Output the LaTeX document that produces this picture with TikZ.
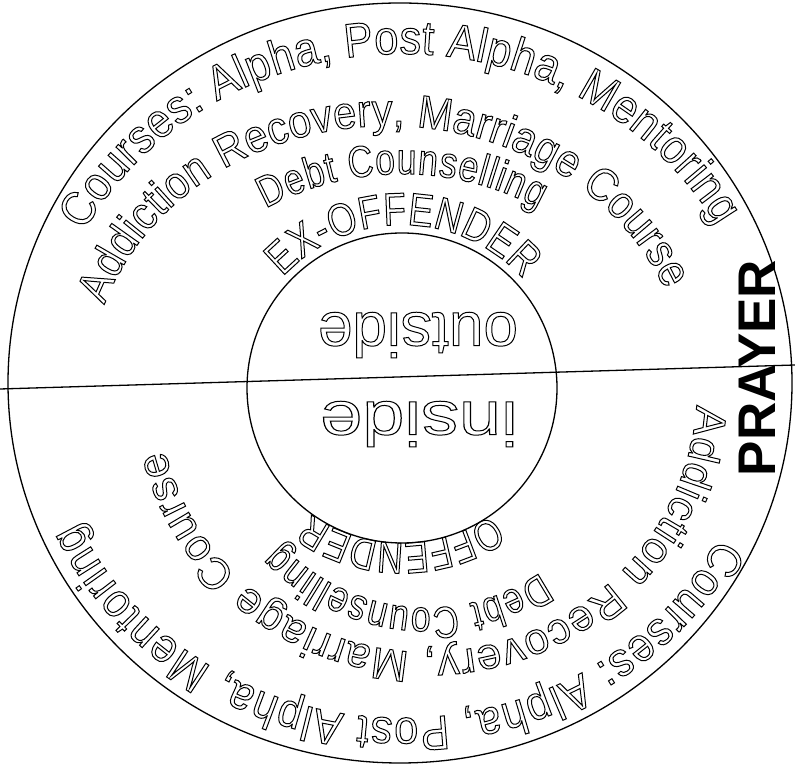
\documentclass[tikz,border=0pt]{standalone}
\usepackage{fontspec}
\setmainfont{Liberation Sans}
\newfontfamily\ftA{Liberation Sans}
\newfontfamily\ftM[FakeStretch=0.9]{Liberation Sans}
\newfontfamily\ftN[FakeStretch=0.8]{Liberation Sans}
\usetikzlibrary{decorations.text,shapes.geometric}
\makeatletter
\tikzset{outlined/.code={\pgfsys@invoke{1 w 1 Tr}}}
\makeatother
\tikzset{
  arctext/.style n args={3}{decorate, decoration={text along path, text={|#1\fontsize{#2}{#2}\selectfont|#3}, text align=fit to path}},
  ring/.style={draw, line width=1.3pt},
  bigword/.style={font=\fontsize{62}{62}\selectfont, inner sep=0pt, rotate=180},
}
\begin{document}
\begin{tikzpicture}[x=1pt,y=1pt]
\useasboundingbox (0,0) rectangle (795,776);
\fill[white] (0,0) rectangle (795,776);
\node[ring, ellipse, minimum width=784pt, minimum height=760pt, inner sep=0pt] (outer) at (400,393) {};
\node[ring, circle, minimum size=310pt, inner sep=0pt] (inner) at (402,388) {};
\coordinate (lineL) at (0,387);
\coordinate (lineR) at (795,411);
\draw[line width=1.3pt] (lineL) -- (lineR);
\begin{scope}[outlined]
  % top half
  \path[shift={(402,388)}, arctext={\ftM}{48}{Courses: Alpha, Post Alpha, Mentoring}] (152:360 and 334) arc[start angle=152, end angle=29, x radius=360, y radius=334];
  \path[shift={(388,388)}, arctext={\ftM}{46}{Addiction Recovery, Marriage Course}] (161.5:299 and 262) arc[start angle=161.5, end angle=22, x radius=299, y radius=262];
  \path[shift={(402,388)}, arctext={\ftN}{44}{Debt Counselling}] (123:250 and 214) arc[start angle=123, end angle=57, x radius=250, y radius=214];
  \path[shift={(402,388)}, arctext={\ftN}{46}{EX-OFFENDER}] (137:163 and 163) arc[start angle=137, end angle=42, x radius=163, y radius=163];
  % bottom half
  \path[shift={(402,388)}, arctext={\ftM}{48}{Courses: Alpha, Post Alpha, Mentoring}] (-27:355 and 330) arc[start angle=-27, end angle=-156, x radius=355, y radius=330];
  \path[shift={(427,388)}, arctext={\ftA}{44}{Addiction Recovery, Marriage Course}] (-3.7:270 and 264) arc[start angle=-3.7, end angle=-166.3, x radius=270, y radius=264];
  \path[shift={(427,388)}, arctext={\ftN}{44}{Debt Counselling}] (-57:208 and 220) arc[start angle=-57, end angle=-135, x radius=208, y radius=220];
  \path[shift={(402,388)}, arctext={\ftN}{44}{OFFENDER}] (-55:157 and 155) arc[start angle=-55, end angle=-125, x radius=157, y radius=155];
  \node[bigword] (outside) at (418,441) {outside};
  \node[bigword, xscale=1.22] (inside) at (419,352) {inside};
\end{scope}
\node[rotate=90, font=\bfseries\fontsize{53}{53}\selectfont, inner sep=0pt] (prayer) at (757,408) {PRAYER};
\end{tikzpicture}
\end{document}
